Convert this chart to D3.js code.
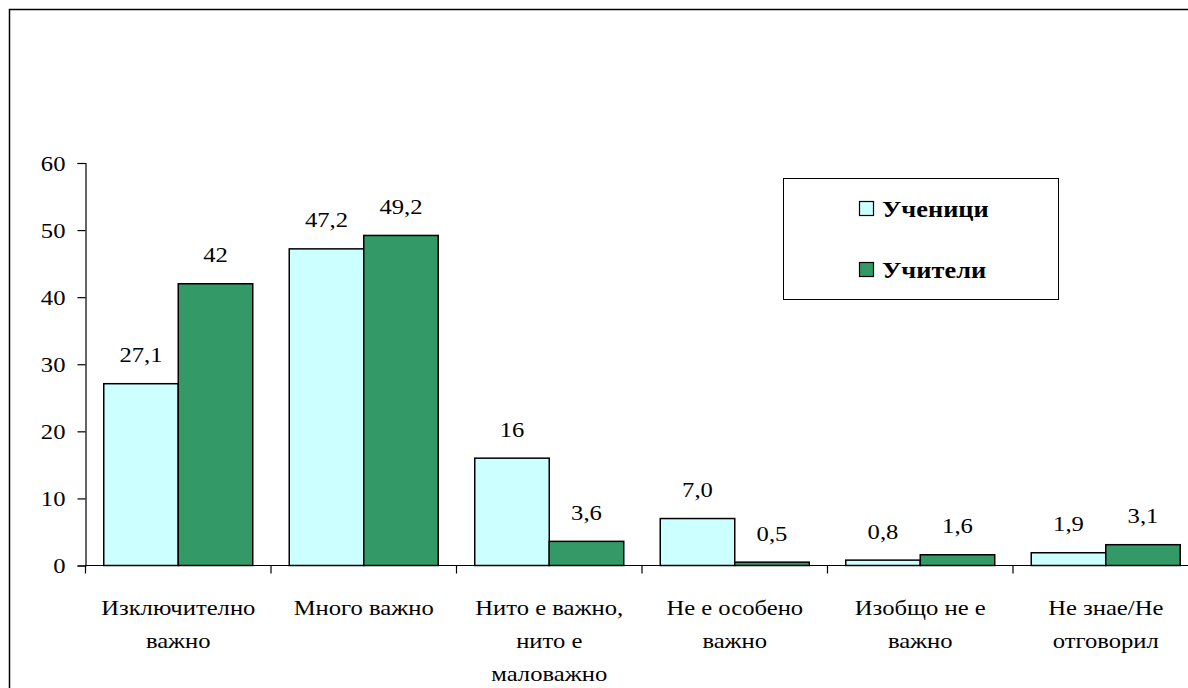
<!DOCTYPE html>
<html>
<head>
<meta charset="utf-8">
<script src="https://cdn.jsdelivr.net/npm/d3@7"></script>
<style>
  body { margin: 0; background: #fff; }
  svg { display: block; }
</style>
</head>
<body>
<svg id="chart"></svg>
<script>
/* data */
let categories = [
  ["Изключително", "важно"],
  ["Много важно"],
  ["Нито е важно,", "нито е", "маловажно"],
  ["Не е особено", "важно"],
  ["Изобщо не е", "важно"],
  ["Не знае/Не", "отговорил"]
];
let seriesNames = ["Ученици", "Учители"];
let students = [27.1, 47.2, 16, 7.0, 0.8, 1.9];
let teachers = [42, 49.2, 3.6, 0.5, 1.6, 3.1];
let studentLabels = ["27,1", "47,2", "16", "7,0", "0,8", "1,9"];
let teacherLabels = ["42", "49,2", "3,6", "0,5", "1,6", "3,1"];
let yTicks = [0, 10, 20, 30, 40, 50, 60];

/* setup */
let W = 1188, H = 688;
let plotLeft = 85.5, plotTop = 163, plotBottom = 565.5;
let step = 185.5;
let sx = 1.12; // text looks a bit wide in the original
let font = "Liberation Serif";

let colors = ["#ccffff", "#339966"];

let svg = d3.select("#chart")
  .attr("width", W)
  .attr("height", H)
  .attr("font-family", font);

// stretched text helper
function place(sel, x, y) {
  return sel
    .attr("font-family", font)
    .attr("fill", "#000")
    .attr("transform", "translate(" + x + "," + y + ") scale(" + sx + ",1)");
}

// outer frame (runs past the right and bottom edge)
svg.append("rect")
  .attr("x", 9.5)
  .attr("y", 9.5)
  .attr("width", 1300)
  .attr("height", 900)
  .attr("fill", "none")
  .attr("stroke", "#000")
  .attr("stroke-width", 1.5);

let idx = d3.range(categories.length);

let x = d3.scaleBand()
  .domain(idx)
  .range([plotLeft, plotLeft + step * categories.length])
  .paddingInner(0)
  .paddingOuter(0);

let xs = d3.scaleBand()
  .domain([0, 1])
  .range([0, x.bandwidth()])
  .paddingInner(0)
  .paddingOuter(0.245);

let y = d3.scaleLinear()
  .domain([0, 60])
  .range([plotBottom, plotTop]);

// bars
let series = [
  { values: students, labels: studentLabels },
  { values: teachers, labels: teacherLabels }
];

series.forEach((s, si) => {
  svg.selectAll(".bar" + si)
    .data(s.values)
    .enter().append("rect")
    .attr("class", "bar" + si)
    .attr("x", (d, i) => x(i) + xs(si))
    .attr("y", d => y(d))
    .attr("width", xs.bandwidth())
    .attr("height", d => y(0) - y(d))
    .attr("fill", colors[si])
    .attr("stroke", "#000")
    .attr("stroke-width", 1.5);

  svg.selectAll(".val" + si)
    .data(s.values)
    .enter().append("text")
    .attr("class", "val" + si)
    .attr("text-anchor", "middle")
    .attr("font-size", 22)
    .each(function(d, i) {
      place(d3.select(this), x(i) + xs(si) + xs.bandwidth() / 2, y(d) - 21.5);
    })
    .text((d, i) => s.labels[i]);
});

// y axis
let yAxis = svg.append("g")
  .attr("transform", "translate(" + plotLeft + ",0)")
  .call(d3.axisLeft(y).tickValues(yTicks).tickSize(8).tickPadding(12));
yAxis.attr("font-family", font).attr("font-size", 22);
yAxis.select(".domain").attr("stroke-width", 1.2);
yAxis.selectAll("line").attr("stroke-width", 1.2);
yAxis.selectAll("text")
  .attr("font-family", font)
  .attr("font-size", 22)
  .attr("x", null)
  .attr("dy", "0.34em")
  .attr("transform", "translate(-20,0) scale(" + sx + ",1)");

// x axis: line with ticks at the band edges
let xAxis = svg.append("g");
xAxis.append("line")
  .attr("x1", plotLeft)
  .attr("x2", W + 20)
  .attr("y1", plotBottom)
  .attr("y2", plotBottom)
  .attr("stroke", "#000")
  .attr("stroke-width", 1.2);

xAxis.selectAll(".xtick")
  .data(d3.range(categories.length + 1))
  .enter().append("line")
  .attr("class", "xtick")
  .attr("x1", d => plotLeft + d * x.step())
  .attr("x2", d => plotLeft + d * x.step())
  .attr("y1", plotBottom)
  .attr("y2", plotBottom + 8)
  .attr("stroke", "#000")
  .attr("stroke-width", 1.2);

// category labels
let cat = svg.selectAll(".cat")
  .data(categories)
  .enter().append("g")
  .attr("class", "cat");

cat.each(function(lines, i) {
  let g = d3.select(this);
  lines.forEach((ln, j) => {
    place(g.append("text"), x(i) + x.bandwidth() / 2, 615 + j * 33)
      .attr("text-anchor", "middle")
      .attr("font-size", 22)
      .text(ln);
  });
});

// legend
let legend = svg.append("g");
legend.append("rect")
  .attr("x", 783.5)
  .attr("y", 178.5)
  .attr("width", 275)
  .attr("height", 121)
  .attr("fill", "#fff")
  .attr("stroke", "#000")
  .attr("stroke-width", 1);

seriesNames.forEach((name, i) => {
  let ly = 209 + i * 61;
  legend.append("rect")
    .attr("x", 859.5)
    .attr("y", ly - 7.5)
    .attr("width", 14)
    .attr("height", 14)
    .attr("fill", colors[i])
    .attr("stroke", "#000")
    .attr("stroke-width", 1.2);
  place(legend.append("text"), 882, ly + 8)
    .attr("transform", "translate(882," + (ly + 8) + ") scale(1.1,1)")
    .attr("font-size", 24)
    .attr("font-weight", "bold")
    .text(name);
});
</script>
</body>
</html>
